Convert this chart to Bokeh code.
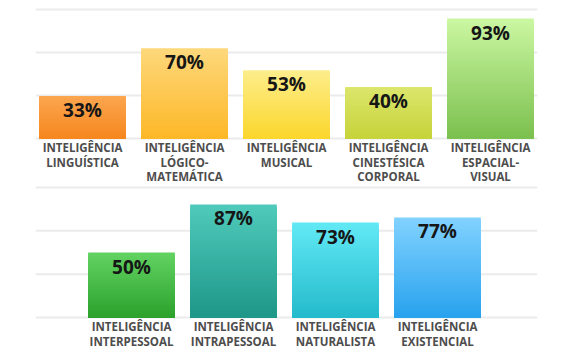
from bokeh.plotting import figure
from bokeh.models import ColumnDataSource, Range1d, Span
from bokeh.layouts import column
from bokeh.core.properties import value
from bokeh.embed import file_html
from bokeh.resources import INLINE

# ---- data ----
top_categories = ["INTELIGÊNCIA\nLINGUÍSTICA", "INTELIGÊNCIA\nLÓGICO-\nMATEMÁTICA",
                  "INTELIGÊNCIA\nMUSICAL", "INTELIGÊNCIA\nCINESTÉSICA\nCORPORAL",
                  "INTELIGÊNCIA\nESPACIAL-\nVISUAL"]
top_values = [33, 70, 53, 40, 93]
top_colors_top = ["#fba650", "#fdd87c", "#fdee8c", "#dce66c", "#cbf7a2"]
top_colors_bottom = ["#f6871e", "#fdb827", "#fbd62c", "#c6d33a", "#7bc04e"]

bottom_categories = ["INTELIGÊNCIA\nINTERPESSOAL", "INTELIGÊNCIA\nINTRAPESSOAL",
                     "INTELIGÊNCIA\nNATURALISTA", "INTELIGÊNCIA\nEXISTENCIAL"]
bottom_values = [50, 87, 73, 77]
bottom_colors_top = ["#62d362", "#4fcabb", "#62e9f6", "#82d2ff"]
bottom_colors_bottom = ["#2ca12c", "#1e9788", "#24bacb", "#28a2ee"]

grid_values = [0, 100 / 3, 200 / 3, 100]

FONT = "Open Sans"
BAR_W = 0.85
N_STRIPS = 40


def hex2rgb(h):
    h = h.lstrip("#")
    return [int(h[i:i + 2], 16) for i in (0, 2, 4)]


def mix(c0, c1, t):
    a, b = hex2rgb(c0), hex2rgb(c1)
    return "#%02x%02x%02x" % tuple(int(round(a[k] + (b[k] - a[k]) * t)) for k in range(3))


def panel(cats, vals, ctop, cbot, height, px_per_unit, baseline_px, center0_px):
    frame_left, frame_right = 35, 537
    x0 = (frame_left - center0_px) / 102.0
    x1 = (frame_right - center0_px) / 102.0
    y_end = baseline_px / px_per_unit
    y_start = -(height - baseline_px) / px_per_unit
    p = figure(width=571, height=height, output_backend="svg", toolbar_location=None,
               x_range=Range1d(x0, x1), y_range=Range1d(y_start, y_end),
               x_axis_location=None, y_axis_location=None,
               min_border_left=frame_left, min_border_right=571 - frame_right,
               min_border_top=0, min_border_bottom=0)
    p.outline_line_color = None
    p.background_fill_color = "white"
    p.border_fill_color = "white"
    p.xgrid.visible = False
    p.ygrid.visible = False

    for g in grid_values:
        p.add_layout(Span(location=g, dimension="width", line_color="#ebebeb",
                          line_width=2, level="underlay"))

    # gradient bars: nested bars from tallest (top colour) to shortest (bottom colour)
    L, R, B, T, C = [], [], [], [], []
    for i, v in enumerate(vals):
        for k in range(N_STRIPS):
            frac = (N_STRIPS - k) / N_STRIPS
            L.append(i - BAR_W / 2)
            R.append(i + BAR_W / 2)
            B.append(0)
            T.append(v * frac)
            C.append(mix(cbot[i], ctop[i], frac - 0.5 / N_STRIPS))
    p.quad(left="left", right="right", bottom="bottom", top="top", fill_color="color",
           line_color=None,
           source=ColumnDataSource(dict(left=L, right=R, bottom=B, top=T, color=C)))

    # percent labels
    p.text(x=list(range(len(vals))), y=[v - 14 / px_per_unit for v in vals],
           text=["%d%%" % v for v in vals], text_font=value(FONT), text_font_style="bold",
           text_font_size="19px", text_color="#161616", text_align="center",
           text_baseline="middle")

    # category labels (one glyph per line)
    lx, ly, lt = [], [], []
    for i, c in enumerate(cats):
        for k, line in enumerate(c.split("\n")):
            lx.append(i)
            ly.append(-(9.0 + 14.6 * k) / px_per_unit)
            lt.append(line)
    p.text(x=lx, y=ly, text=lt, text_font=value(FONT), text_font_style="bold",
           text_font_size="11.5px", text_color="#4d4d4d", text_align="center",
           text_baseline="middle")
    return p


p_top = panel(top_categories, top_values, top_colors_top, top_colors_bottom,
              185, 1.29, 138, 82)
p_bot = panel(bottom_categories, bottom_values, bottom_colors_top, bottom_colors_bottom,
              169, 1.30, 132, 131)

p = column(p_top, p_bot, spacing=0)
open("out.html", "w").write(file_html(p, INLINE))
